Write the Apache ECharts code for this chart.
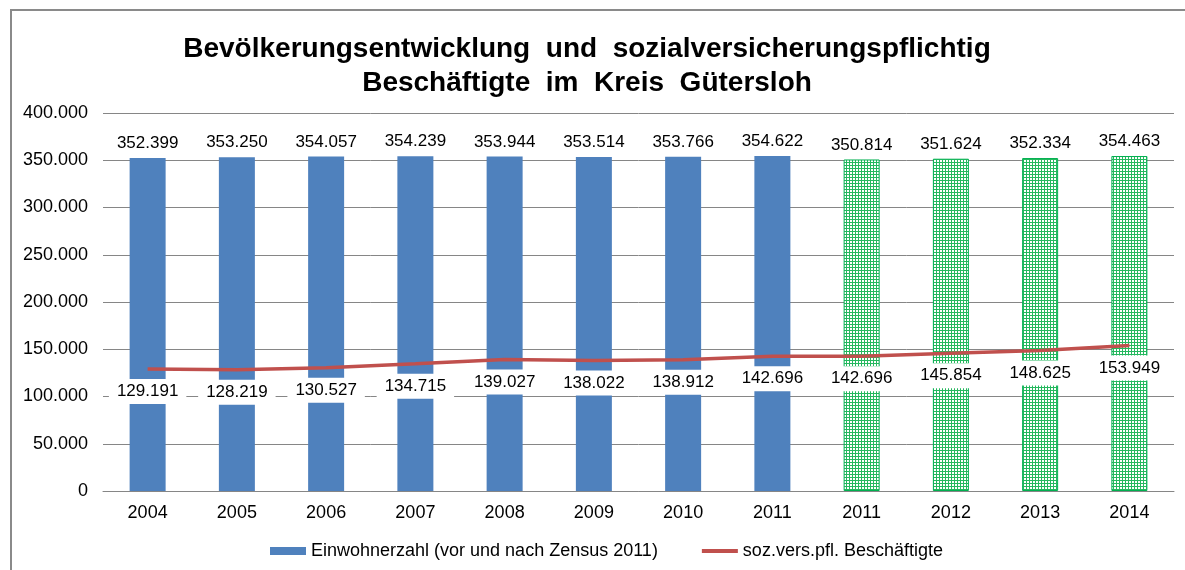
<!DOCTYPE html>
<html>
<head>
<meta charset="utf-8">
<script src="https://cdn.jsdelivr.net/npm/echarts@6/dist/echarts.min.js"></script>
<style>
  html, body { margin: 0; padding: 0; background: #fff; }
  #main { width: 1185px; height: 570px; }
</style>
</head>
<body>
<div id="main"></div>
<script>
// Daten aus der Grafik
const years = ['2004', '2005', '2006', '2007', '2008', '2009', '2010', '2011', '2011', '2012', '2013', '2014']
const einwohner = [352399, 353250, 354057, 354239, 353944, 353514, 353766, 354622, 350814, 351624, 352334, 354463]
const beschaeftigte = [129191, 128219, 130527, 134715, 139027, 138022, 138912, 142696, 142696, 145854, 148625, 153949]
// ab Index 8: nach Zensus 2011 (grün gemustert)
const zensusStart = 8
const yTicks = [0, 400000, 50000] // min, max, interval

// Zahl mit Punkt als Tausendertrenner
function fmt(v) {
  return String(v).replace(/\B(?=(\d{3})+(?!\d))/g, '.')
}

// kleines Gittermuster für die grünen Balken
function gridPattern() {
  const c = document.createElement('canvas')
  c.width = 3
  c.height = 3
  const ctx = c.getContext('2d')
  ctx.fillStyle = '#ffffff'
  ctx.fillRect(0, 0, 3, 3)
  ctx.fillStyle = '#25b85e'
  ctx.fillRect(0, 0, 3, 1)
  ctx.fillRect(0, 0, 1, 3)
  return c
}

const pattern = gridPattern()
const barData = einwohner.map((v, i) => {
  if (i < zensusStart) return v
  return {
    value: v,
    itemStyle: {
      color: { image: pattern, repeat: 'repeat' },
      borderColor: '#00b050',
      borderWidth: 1
    }
  }
})

const font = '"Liberation Sans", Arial, sans-serif'

const option = {
  animation: false,
  textStyle: { fontFamily: font },
  title: {
    text: 'Bevölkerungsentwicklung  und  sozialversicherungspflichtig\nBeschäftigte  im  Kreis  Gütersloh',
    left: 582,
    top: 27,
    textAlign: 'center',
    textStyle: {
      fontFamily: font,
      fontSize: 28,
      fontWeight: 'bold',
      color: '#000',
      lineHeight: 34
    }
  },
  legend: {
    left: 265,
    top: 537,
    itemWidth: 36,
    itemHeight: 8,
    itemGap: 44,
    textStyle: { fontFamily: font, fontSize: 18, color: '#000' },
    data: [
      { name: 'Einwohnerzahl (vor und nach Zensus 2011)', icon: 'rect' },
      { name: 'soz.vers.pfl. Beschäftigte', icon: 'path://M0,0 H36 V4 H0 Z' }
    ]
  },
  graphic: [
    {
      type: 'rect',
      shape: { x: 11, y: 10, width: 1300, height: 700 },
      style: { fill: null, stroke: '#8a8a8a', lineWidth: 2 },
      silent: true
    }
  ],
  grid: {
    left: 103,
    right: 11,
    top: 113,
    bottom: 79
  },
  xAxis: {
    type: 'category',
    data: years,
    axisLine: { lineStyle: { color: '#868686', width: 1 } },
    axisTick: { show: false },
    axisLabel: { fontSize: 18, color: '#000', margin: 13, fontFamily: font }
  },
  yAxis: {
    type: 'value',
    min: yTicks[0],
    max: yTicks[1],
    interval: yTicks[2],
    axisLine: { show: false },
    axisTick: { show: false },
    splitLine: { lineStyle: { color: '#868686', width: 1 } },
    axisLabel: {
      fontSize: 18,
      color: '#000',
      margin: 15,
      fontFamily: font,
      formatter: v => fmt(v)
    }
  },
  series: [
    {
      name: 'Einwohnerzahl (vor und nach Zensus 2011)',
      type: 'bar',
      barWidth: 36,
      data: barData,
      itemStyle: { color: '#4f81bd' },
      label: {
        show: true,
        position: 'top',
        distance: 6,
        fontSize: 17,
        color: '#000',
        fontFamily: font,
        formatter: p => fmt(p.value)
      }
    },
    {
      name: 'soz.vers.pfl. Beschäftigte',
      type: 'line',
      data: beschaeftigte,
      symbol: 'circle',
      symbolSize: 0,
      showSymbol: true,
      lineStyle: { color: '#c0504d', width: 3.5 },
      itemStyle: { color: '#c0504d' },
      label: {
        show: true,
        position: 'bottom',
        distance: 10,
        fontSize: 17,
        color: '#000',
        fontFamily: font,
        backgroundColor: '#fff',
        padding: [4, 8],
        formatter: p => fmt(p.value)
      }
    }
  ]
}

const chartDom = document.getElementById('main')
const myChart = echarts.init(chartDom)
myChart.setOption(option)
</script>
</body>
</html>
